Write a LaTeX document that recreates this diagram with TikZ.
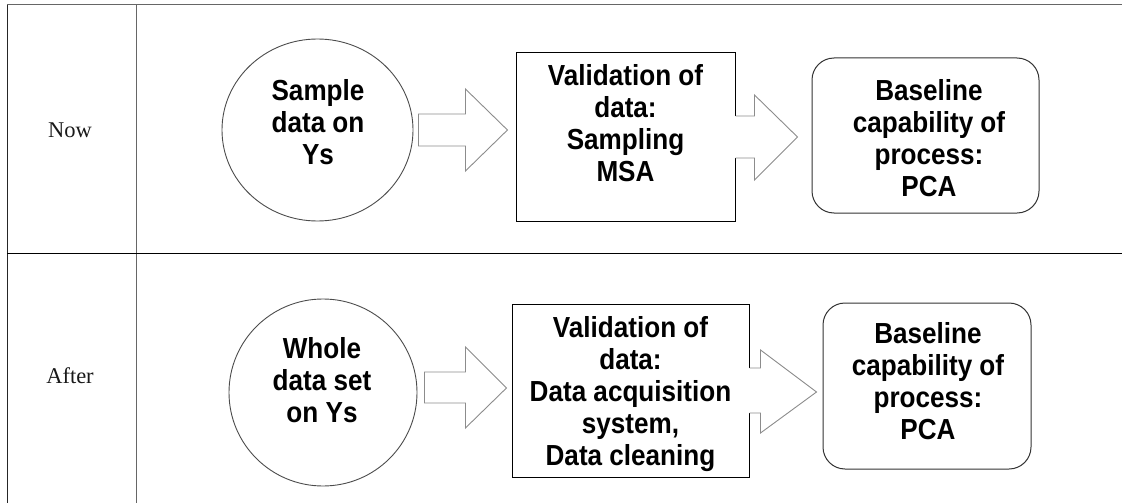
\documentclass[tikz,border=0pt]{standalone}
\usepackage{fontspec}
\newfontfamily\boxfont{Liberation Sans}[FakeStretch=0.9]
\newfontfamily\labfont{Liberation Serif}
\usetikzlibrary{shapes.geometric,calc}
\begin{document}
\begin{tikzpicture}[x=1pt,y=-1pt,
  tline/.style={draw=black!60, line width=1pt},
  circ/.style={ellipse, draw=black!70, line width=0.9pt, inner sep=0pt},
  sqbox/.style={rectangle, draw=black, line width=1pt, inner sep=0pt},
  rbox/.style={rectangle, rounded corners=22pt, draw=black!80, line width=1pt, inner sep=0pt},
  barrow/.style={draw=black!45, fill=white, line width=0.9pt, line join=miter},
  txt/.style={align=center, inner sep=0pt, anchor=north, font=\boxfont\bfseries\fontsize{29}{32}\selectfont},
  rowlab/.style={inner sep=0pt, text=black!90, font=\labfont\fontsize{22.5}{27}\selectfont}]
\useasboundingbox (0,0) rectangle (1122,503);
% table
\draw[tline] (7,5) -- (1122,5);
\draw[draw=black!85, line width=1pt] (7,5) -- (7,503);
\draw[tline] (136,5) -- (136,503);
\draw[draw=black, line width=1pt] (7,253) -- (1122,253);
\node[rowlab] (now) at (70,130) {Now};
\node[rowlab] (after) at (70,376) {After};
% row 1
\node[circ, minimum width=191pt, minimum height=182pt] (c1) at (317.5,130) {};
\node[txt] (c1t) at (318,79) {Sample\\data on\\Ys};
\node[sqbox, minimum width=219pt, minimum height=168pt] (b1) at (625.5,137) {};
\node[txt] (b1t) at (625.5,64) {Validation of\\data:\\Sampling\\MSA};
\node[rbox, minimum width=227pt, minimum height=155pt] (r1) at (925.5,135.5) {};
\node[txt] (r1t) at (929,79) {Baseline\\capability of\\process:\\PCA};
% row 2
\node[circ, minimum width=188pt, minimum height=187pt] (c2) at (323,392.5) {};
\node[txt] (c2t) at (322,337) {Whole\\data set\\on Ys};
\node[sqbox, minimum width=237pt, minimum height=173.5pt] (b2) at (630.5,391) {};
\node[txt] (b2t) at (630.5,316) {Validation of\\data:\\Data acquisition\\system,\\Data cleaning};
\node[rbox, minimum width=208pt, minimum height=166pt] (r2) at (927,386) {};
\node[txt] (r2t) at (928,322) {Baseline\\capability of\\process:\\PCA};
% block arrows
\draw[barrow] ($(c1.east)+(5,-16)$) -- ++(47,0) -- ++(0,-25) -- ++(42,41) -- ++(-42,41) -- ++(0,-25) -- ++(-47,0) -- cycle;
\draw[barrow] ($(c2.east)+(7,-20.5)$) -- ++(41,0) -- ++(0,-25) -- ++(41,41) -- ++(-41,40) -- ++(0,-25) -- ++(-41,0) -- cycle;
\fill[white] ($(b1.east)+(-1.5,-21)$) rectangle ++(3,42);
\draw[barrow] ($(b1.east)+(0,-21)$) -- ++(19,0) -- ++(0,-21) -- ++(43,42) -- ++(-43,43) -- ++(0,-22) -- ++(-19,0);
\fill[white] ($(b2.east)+(-1.5,-23)$) rectangle ++(3,45);
\draw[barrow] ($(b2.east)+(0,-23)$) -- ++(11,0) -- ++(0,-18) -- ++(56,42) -- ++(-56,41) -- ++(0,-20) -- ++(-11,0);
\end{tikzpicture}
\end{document}
